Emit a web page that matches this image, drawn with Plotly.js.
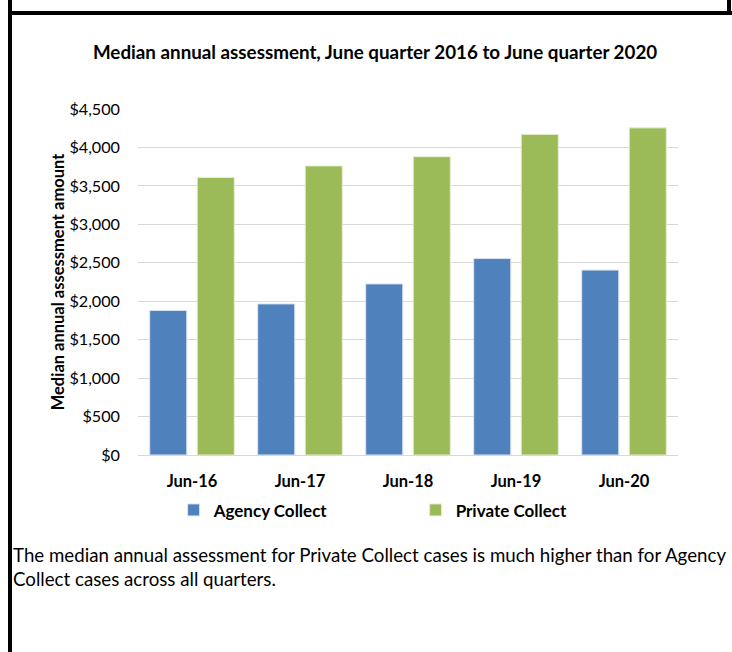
<!DOCTYPE html>
<html>
<head>
<meta charset="utf-8">
<script src="https://cdn.plot.ly/plotly-3.0.1.min.js"></script>
<style>
  html, body { margin: 0; padding: 0; background: #fff; }
  #wrap { position: relative; width: 732px; height: 652px; overflow: hidden; }
  #chart { position: absolute; left: 0; top: 0; width: 732px; height: 652px; }
  .bl { position: absolute; background: #000; }
</style>
</head>
<body>
<div id="wrap">
  <div id="chart"></div>
  <div class="bl" style="left:8px; top:0; width:4px; height:652px;"></div>
  <div class="bl" style="left:8px; top:11px; width:724px; height:4px;"></div>
  <div class="bl" style="left:727px; top:0; width:4px; height:15px;"></div>
</div>
<script>
const categories = ["Jun-16", "Jun-17", "Jun-18", "Jun-19", "Jun-20"];
const agencyCollect = [1880, 1965, 2225, 2555, 2405];
const privateCollect = [3610, 3760, 3880, 4170, 4255];
const yTickVals = [0, 500, 1000, 1500, 2000, 2500, 3000, 3500, 4000, 4500];
const yTickText = ["$0", "$500", "$1,000", "$1,500", "$2,000", "$2,500", "$3,000", "$3,500", "$4,000", "$4,500"];

const FONT = "Lato, 'Open Sans', sans-serif";

const data = [
  { type: "bar", name: "Agency Collect", x: categories, y: agencyCollect,
    marker: { color: "#4f81bd", line: { color: "#dbe4f0", width: 1 } } },
  { type: "bar", name: "Private Collect", x: categories, y: privateCollect,
    marker: { color: "#9bbb59", line: { color: "#e6eed6", width: 1 } } }
];

const layout = {
  width: 732, height: 652,
  margin: { l: 138, r: 54, t: 109, b: 196.5, pad: 0 },
  paper_bgcolor: "#ffffff", plot_bgcolor: "#ffffff",
  font: { family: FONT, color: "#000000" },
  barmode: "group", bargap: 0.12, bargroupgap: 0.22,
  showlegend: true,
  title: { text: "<b>Median annual assessment, June quarter 2016 to June quarter 2020</b>",
           font: { size: 18.8, family: FONT, color: "#000" },
           xref: "paper", x: 0.439, xanchor: "center",
           yref: "container", y: 1 - 52/652, yanchor: "middle" },
  xaxis: { type: "category", showgrid: false, showline: true, linecolor: "#d9d9d9", linewidth: 1,
           ticks: "", ticklabelstandoff: 11,
           tickfont: { size: 16.5, family: FONT, color: "#000", weight: "bold" }, fixedrange: true },
  yaxis: { range: [0, 4500], tickvals: yTickVals, ticktext: yTickText, showgrid: true,
           gridcolor: "#d9d9d9", gridwidth: 1, zeroline: false, showline: false, ticks: "",
           ticklabelstandoff: 17,
           tickfont: { size: 16.2, family: FONT, color: "#000" }, fixedrange: true,
           title: { text: "<b>Median annual assessment amount</b>", standoff: 0,
                    font: { size: 16.5, family: FONT, color: "#000" } } },
  legend: { orientation: "h", x: 0.066, xanchor: "left", y: -0.16, yanchor: "middle",
            itemwidth: 30,
            font: { size: 17, family: FONT, color: "#000", weight: "bold" },
            entrywidth: 197, entrywidthmode: "pixels", itemclick: false, itemdoubleclick: false },
  annotations: [
    { xref: "paper", yref: "paper", x: (11 - 138) / 540, y: (455.5 - 543) / 346.5,
      xanchor: "left", yanchor: "top", align: "left", showarrow: false,
      text: "The median annual assessment for Private Collect cases is much higher than for Agency<br>Collect cases across all quarters.",
      font: { size: 18.7, family: FONT, color: "#000" } }
  ]
};

Plotly.newPlot("chart", data, layout, { displayModeBar: false, staticPlot: true });
</script>
</body>
</html>
